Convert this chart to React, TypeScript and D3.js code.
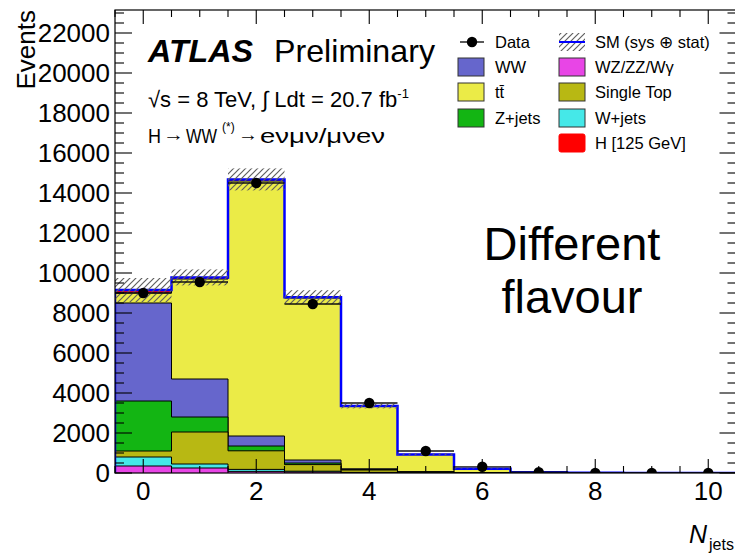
import React from "react";
import * as d3 from "d3";

// ---- data ----
const nJets = [0, 1, 2, 3, 4, 5, 6, 7, 8, 9, 10];
const wzzzwg = [350, 250, 80, 50, 20, 5, 1, 0, 0, 0, 0];
const wjets = [450, 200, 100, 40, 10, 3, 1, 0, 0, 0, 0];
const singleTop = [300, 1600, 930, 330, 120, 40, 10, 2, 0, 0, 0];
const zjets = [2500, 750, 240, 80, 20, 5, 1, 0, 0, 0, 0];
const ww = [4900, 1900, 500, 150, 40, 10, 2, 1, 0, 0, 0];
const ttbar = [500, 5000, 12750, 8100, 3130, 864, 194, 37, 8, 2, 1];
const higgs = [150, 80, 80, 40, 10, 3, 1, 0, 0, 0, 0];
const dataCounts = [9000, 9550, 14500, 8450, 3500, 1100, 310, 40, 8, 3, 1];
const smUnc = [600, 400, 550, 350, 120, 50, 15, 5, 2, 1, 1];
const yTickValues = [0, 2000, 4000, 6000, 8000, 10000, 12000, 14000, 16000, 18000, 20000, 22000];
const xTickValues = [0, 2, 4, 6, 8, 10];

const layers = [
  { name: "WZ/ZZ/Wγ", values: wzzzwg, fill: "#e845e6", stroke: "#000" },
  { name: "W+jets", values: wjets, fill: "#45e8e8", stroke: "#000" },
  { name: "Single Top", values: singleTop, fill: "#b8b813", stroke: "#000" },
  { name: "Z+jets", values: zjets, fill: "#13b513", stroke: "#000" },
  { name: "WW", values: ww, fill: "#6666cc", stroke: "#000" },
  { name: "tt̄", values: ttbar, fill: "#ebeb47", stroke: "#000" },
  { name: "H [125 GeV]", values: higgs, fill: "#ff0000", stroke: "#ff0000" },
];

const FONT = "'Liberation Sans', Arial, Helvetica, sans-serif";

export default function App() {
  const x = d3.scaleLinear().domain([-0.5, 10.5]).range([115, 736.5]);
  const y = d3.scaleLinear().domain([0, 23150]).range([473, 10]);
  const [x0, x1] = x.range();
  const [yb, yt] = y.range();

  const cum: number[][] = [];
  layers.forEach((l, k) => {
    cum.push(l.values.map((v, i) => v + (k > 0 ? cum[k - 1][i] : 0)));
  });
  const total = cum[cum.length - 1];

  const stepPts = (vals: number[]) => {
    let d = "";
    vals.forEach((v, i) => {
      d += ` L${x(nJets[i] - 0.5)},${y(v)} L${x(nJets[i] + 0.5)},${y(v)}`;
    });
    return d;
  };
  const stepArea = (vals: number[]) => `M${x(-0.5)},${y(0)}` + stepPts(vals) + ` L${x(10.5)},${y(0)} Z`;
  const stepOutline = (vals: number[]) => `M${x(-0.5)},${y(0)}` + stepPts(vals) + ` L${x(10.5)},${y(0)}`;

  const yMinor = d3.range(0, 23150, 500).filter((v) => v % 2000 !== 0);
  const xMinor = d3.range(-0.5, 10.51, 0.5).filter((v) => v % 2 !== 0);

  const legendRowY = [42, 67, 92, 118, 143];
  const col1 = [
    { label: "WW", fill: "#6666cc" },
    { label: "tt̄", fill: "#ebeb47" },
    { label: "Z+jets", fill: "#13b513" },
  ];
  const col2 = [
    { label: "WZ/ZZ/Wγ", fill: "#e845e6" },
    { label: "Single Top", fill: "#b8b813" },
    { label: "W+jets", fill: "#45e8e8" },
    { label: "H [125 GeV]", fill: "#ff0000" },
  ];

  return (
    <svg
      width={735}
      height={555}
      style={{ position: "absolute", left: 0, top: 0, background: "#fff" }}
      fontFamily={FONT}
    >
      <defs>
        <pattern id="hatch" patternUnits="userSpaceOnUse" width={6} height={6}>
          <path d="M-1,7 L7,-1 M-1,1 L1,-1 M5,7 L7,5" stroke="#606060" strokeWidth={1.2} />
        </pattern>
        <clipPath id="plot">
          <rect x={x0} y={yt} width={x1 - x0} height={yb - yt} />
        </clipPath>
      </defs>
      <rect x={0} y={0} width={735} height={555} fill="#fff" />

      <g clipPath="url(#plot)">
        {layers
          .map((l, k) => ({ l, k }))
          .reverse()
          .map(({ l, k }) => (
            <g key={l.name}>
              <path d={stepArea(cum[k])} fill={l.fill} />
              <path d={stepOutline(cum[k])} fill="none" stroke={l.stroke} strokeWidth={1} />
            </g>
          ))}
        <path d={stepOutline(total)} fill="none" stroke="#0000ff" strokeWidth={2.5} />
        {nJets.map((n, i) =>
          total[i] > 0 ? (
            <rect
              key={"u" + n}
              x={x(n - 0.5)}
              width={x(n + 0.5) - x(n - 0.5)}
              y={y(total[i] + smUnc[i])}
              height={y(Math.max(0, total[i] - smUnc[i])) - y(total[i] + smUnc[i])}
              fill="url(#hatch)"
            />
          ) : null
        )}
        {nJets.map((n, i) => (
          <g key={"d" + n}>
            <line x1={x(n - 0.5)} x2={x(n + 0.5)} y1={y(dataCounts[i])} y2={y(dataCounts[i])} stroke="#111" strokeWidth={1.3} />
            <line
              x1={x(n)}
              x2={x(n)}
              y1={y(dataCounts[i] + Math.sqrt(dataCounts[i]))}
              y2={y(Math.max(0, dataCounts[i] - Math.sqrt(dataCounts[i])))}
              stroke="#000"
              strokeWidth={1.3}
            />
            <circle cx={x(n)} cy={y(dataCounts[i])} r={5.2} fill="#000" />
          </g>
        ))}
      </g>

      <rect x={x0} y={yt} width={x1 - x0} height={yb - yt} fill="none" stroke="#000" strokeWidth={1.2} />

      {yTickValues.map((v) => (
        <g key={"yt" + v}>
          <line x1={x0} x2={x0 + 17} y1={y(v)} y2={y(v)} stroke="#000" strokeWidth={1.1} />
          <line x1={x1} x2={x1 - 17} y1={y(v)} y2={y(v)} stroke="#000" strokeWidth={1.1} />
          <text x={110} y={y(v) + 9} textAnchor="end" fontSize={26}>
            {v}
          </text>
        </g>
      ))}
      {yMinor.map((v) => (
        <g key={"ym" + v}>
          <line x1={x0} x2={x0 + 9} y1={y(v)} y2={y(v)} stroke="#000" strokeWidth={1.1} />
          <line x1={x1} x2={x1 - 9} y1={y(v)} y2={y(v)} stroke="#000" strokeWidth={1.1} />
        </g>
      ))}
      {xTickValues.map((v) => (
        <g key={"xt" + v}>
          <line x1={x(v)} x2={x(v)} y1={yb} y2={yb - 14} stroke="#000" strokeWidth={1.1} />
          <line x1={x(v)} x2={x(v)} y1={yt} y2={yt + 14} stroke="#000" strokeWidth={1.1} />
          <text x={x(v)} y={500} textAnchor="middle" fontSize={26}>
            {v}
          </text>
        </g>
      ))}
      {xMinor.map((v) => (
        <g key={"xm" + v}>
          <line x1={x(v)} x2={x(v)} y1={yb} y2={yb - 7} stroke="#000" strokeWidth={1.1} />
          <line x1={x(v)} x2={x(v)} y1={yt} y2={yt + 7} stroke="#000" strokeWidth={1.1} />
        </g>
      ))}

      <text transform="translate(35,10) rotate(-90)" textAnchor="end" fontSize={26}>
        Events
      </text>
      <text x={689} y={543} fontSize={25} fontStyle="italic">
        N
      </text>
      <text x={709} y={550} fontSize={16}>
        jets
      </text>

      <text x={148} y={62} fontSize={32} fontWeight="bold" fontStyle="italic" textLength={105} lengthAdjust="spacingAndGlyphs">
        ATLAS
      </text>
      <text x={274} y={62} fontSize={32} textLength={161} lengthAdjust="spacingAndGlyphs">
        Preliminary
      </text>
      <text x={148} y={107} fontSize={22}>
        √s = 8 TeV, ∫ Ldt = 20.7 fb
        <tspan dy={-9} fontSize={13}>
          -1
        </tspan>
      </text>
      <text x={148} y={143} fontSize={20} textLength={13} lengthAdjust="spacingAndGlyphs">H</text>
      <text x={163} y={141} fontSize={19} textLength={21} lengthAdjust="spacingAndGlyphs">→</text>
      <text x={186} y={143} fontSize={20} textLength={31} lengthAdjust="spacingAndGlyphs">WW</text>
      <text x={222} y={131} fontSize={12}>(*)</text>
      <text x={238} y={141} fontSize={19} textLength={20} lengthAdjust="spacingAndGlyphs">→</text>
      <text x={260} y={143} fontSize={21} textLength={125} lengthAdjust="spacingAndGlyphs">
        eνμν/μνeν
      </text>

      <text x={572} y={260} textAnchor="middle" fontSize={47}>
        Different
      </text>
      <text x={572} y={313} textAnchor="middle" fontSize={47}>
        flavour
      </text>

      <g fontSize={16.5}>
        <line x1={460} x2={484} y1={legendRowY[0]} y2={legendRowY[0]} stroke="#000" strokeWidth={1.3} />
        <circle cx={472} cy={legendRowY[0]} r={5.2} fill="#000" />
        <text x={495} y={legendRowY[0] + 6}>Data</text>
        {col1.map((e, i) => (
          <g key={e.label}>
            <rect x={458} y={legendRowY[i + 1] - 9} width={26} height={18} fill={e.fill} stroke="#333" strokeWidth={1} />
            <text x={495} y={legendRowY[i + 1] + 6}>{e.label}</text>
          </g>
        ))}
        <rect x={559} y={legendRowY[0] - 9} width={26} height={18} fill="url(#hatch)" />
        <line x1={559} x2={585} y1={legendRowY[0]} y2={legendRowY[0]} stroke="#0000ff" strokeWidth={2} />
        <text x={595} y={legendRowY[0] + 6}>SM (sys ⊕ stat)</text>
        {col2.map((e, i) => (
          <g key={e.label}>
            <rect
              x={559}
              y={legendRowY[i + 1] - 9}
              width={26}
              height={18}
              fill={e.fill}
              stroke={e.fill === "#ff0000" ? "#ff0000" : "#333"}
              strokeWidth={1}
              rx={e.fill === "#ff0000" ? 2 : 0}
            />
            <text x={595} y={legendRowY[i + 1] + 6}>{e.label}</text>
          </g>
        ))}
      </g>
    </svg>
  );
}
